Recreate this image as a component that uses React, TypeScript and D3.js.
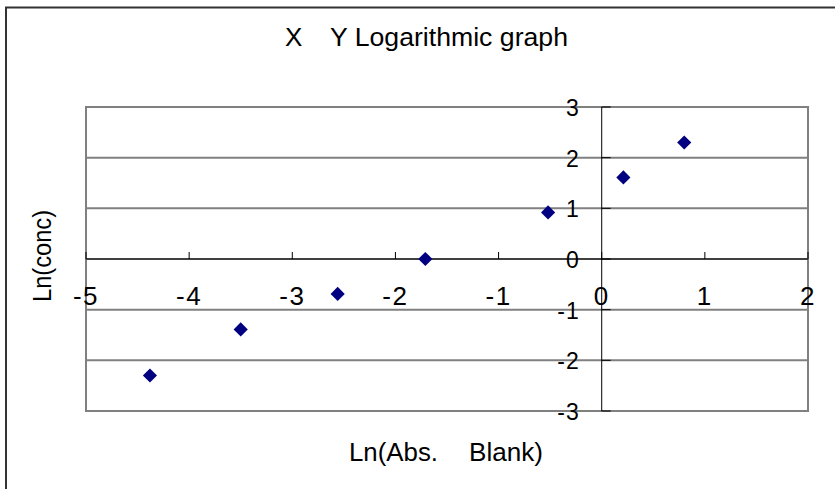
import React from "react";
import * as d3 from "d3";

const xValues = [-4.38, -3.5, -2.56, -1.71, -0.52, 0.21, 0.8];
const yValues = [-2.3, -1.39, -0.69, 0, 0.92, 1.61, 2.3];
const xTicks = [-5, -4, -3, -2, -1, 0, 1, 2];
const yTicks = [-3, -2, -1, 0, 1, 2, 3];
const xTickLabels = ["-5", "-4", "-3", "-2", "-1", "0", "1", "2"];
const yTickLabels = ["-3", "-2", "-1", "0", "1", "2", "3"];
const titleParts = ["X", "Y Logarithmic graph"];
const xLabelParts = ["Ln(Abs.", "Blank)"];
const yLabel = "Ln(conc)";

const W = 835;
const H = 489;
const FONT = "'Liberation Sans', Arial, sans-serif";

export default function App() {
  const x = d3.scaleLinear().domain([-5, 2]).range([86, 808]);
  const y = d3.scaleLinear().domain([-3, 3]).range([411, 107]);
  const x0 = x(0);
  const y0 = y(0);
  const diamond = d3.symbol().type(d3.symbolDiamond2).size(128)();
  const data = xValues.map((v, i) => ({ x: v, y: yValues[i] }));

  return (
    <svg
      width={W}
      height={H}
      style={{ position: "absolute", left: 0, top: 0, background: "#fff" }}
    >
      <rect x={0} y={0} width={W} height={H} fill="#fff" />
      <rect x={6} y={7.5} width={W + 10} height={H + 10} fill="none" stroke="#333" strokeWidth={2} />

      {/* title */}
      <text fontFamily={FONT} fontSize={26} fill="#000">
        <tspan x={285} y={46}>{titleParts[0]}</tspan>
        <tspan x={330} y={46} textLength={238} lengthAdjust="spacingAndGlyphs">
          {titleParts[1]}
        </tspan>
      </text>

      {/* gridlines */}
      {yTicks.map((t) => (
        <line key={"g" + t} x1={x(-5)} x2={x(2)} y1={y(t)} y2={y(t)} stroke="#808080" strokeWidth={2} />
      ))}
      <rect x={x(-5)} y={y(3)} width={x(2) - x(-5)} height={y(-3) - y(3)} fill="none" stroke="#808080" strokeWidth={2} />

      {/* axes */}
      <line x1={x(-5)} x2={x(2)} y1={y0} y2={y0} stroke="#000" strokeWidth={1} />
      <line x1={x0} x2={x0} y1={y(3)} y2={y(-3)} stroke="#000" strokeWidth={1} />
      {xTicks.map((t) => (
        <line key={"xt" + t} x1={x(t)} x2={x(t)} y1={y0} y2={y0 - 7} stroke="#000" strokeWidth={1} />
      ))}
      {yTicks.map((t) => (
        <line key={"yt" + t} x1={x0} x2={x0 + 9} y1={y(t)} y2={y(t)} stroke="#000" strokeWidth={1} />
      ))}

      {/* tick labels */}
      {xTicks.map((t, i) => (
        <text key={"xl" + t} x={x(t)} y={y0 + 46} textAnchor="middle" fontFamily={FONT} fontSize={26} letterSpacing={1.5} fill="#000">
          {xTickLabels[i]}
        </text>
      ))}
      {yTicks.map((t, i) => (
        <text key={"yl" + t} x={x0 - 22} y={y(t) + 9} textAnchor="end" fontFamily={FONT} fontSize={23} letterSpacing={1} fill="#000">
          {yTickLabels[i]}
        </text>
      ))}

      {/* points */}
      {data.map((d, i) => (
        <path key={"p" + i} d={diamond as string} transform={`translate(${x(d.x)},${y(d.y)})`} fill="#000080" />
      ))}

      {/* axis titles */}
      <text fontFamily={FONT} fontSize={26} fill="#000">
        <tspan x={349} y={461} textLength={89} lengthAdjust="spacingAndGlyphs">{xLabelParts[0]}</tspan>
        <tspan x={469} y={461} textLength={74} lengthAdjust="spacingAndGlyphs">{xLabelParts[1]}</tspan>
      </text>
      <text
        transform={`translate(51,256) rotate(-90)`}
        textAnchor="middle"
        fontFamily={FONT}
        fontSize={25}
        textLength={92}
        lengthAdjust="spacingAndGlyphs"
        fill="#000"
      >
        {yLabel}
      </text>
    </svg>
  );
}
